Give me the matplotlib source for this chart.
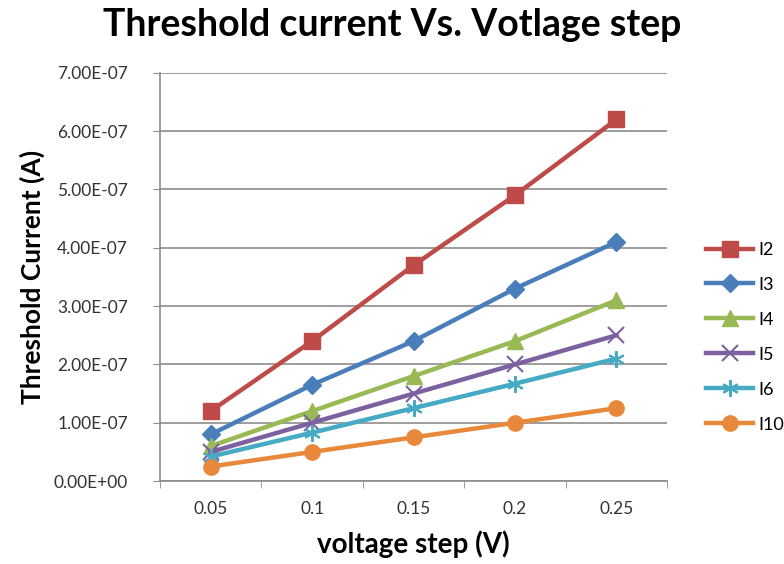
import matplotlib.pyplot as plt
import numpy as np

plt.rcParams['font.family'] = ['Lato', 'DejaVu Sans']

steps = ["0.05", "0.1", "0.15", "0.2", "0.25"]
series_names = ["I2", "I3", "I4", "I5", "I6", "I10"]
i2 = [1.2e-7, 2.4e-7, 3.7e-7, 4.9e-7, 6.2e-7]
i3 = [0.8e-7, 1.65e-7, 2.4e-7, 3.3e-7, 4.1e-7]
i4 = [0.6e-7, 1.2e-7, 1.8e-7, 2.4e-7, 3.1e-7]
i5 = [0.5e-7, 1.0e-7, 1.5e-7, 2.0e-7, 2.5e-7]
i6 = [0.42e-7, 0.83e-7, 1.25e-7, 1.67e-7, 2.1e-7]
i10 = [0.25e-7, 0.5e-7, 0.75e-7, 1.0e-7, 1.25e-7]
yticks = [0, 1e-7, 2e-7, 3e-7, 4e-7, 5e-7, 6e-7, 7e-7]

colors = ["#BE4B48", "#4A7EBB", "#98B954", "#7D60A0", "#46AAC5", "#E8883A"]
markers = ["s", "D", "^", "x", (6, 2, 0), "o"]
msizes = [12, 9, 11, 12, 12, 11]

fig = plt.figure(figsize=(7.84, 5.64), dpi=100)
ax = fig.add_axes([0.204, 0.147, 0.647, 0.724])

x = np.arange(len(steps))
for name, vals, c, m, ms in zip(series_names, [i2, i3, i4, i5, i6, i10], colors, markers, msizes):
    ax.plot(x, vals, color=c, lw=3.2, marker=m, markersize=ms,
            markeredgewidth=1.5 if m in ("x", (6, 2, 0)) else 1,
            markeredgecolor=c, label=name, zorder=3)

ax.set_xlim(-0.5, len(steps) - 0.5)
ax.set_ylim(0, 7e-7)
ax.set_xticks(x)
ax.set_xticklabels(steps)
ax.set_xticks(np.arange(-0.5, len(steps)), minor=True)
ax.tick_params(axis='x', which='major', length=0, pad=14)
ax.tick_params(axis='x', which='minor', length=5, color='#8c8c8c')
ax.set_yticks(yticks)
ax.set_yticklabels([f"{v:.2E}" for v in yticks])
ax.tick_params(axis='y', length=5, color='#8c8c8c', pad=18)
ax.tick_params(labelsize=12.5, labelcolor='#333333')

ax.grid(True, axis='y', color='#8c8c8c', lw=1.2, zorder=1)
for side in ("top", "right"):
    ax.spines[side].set_visible(False)
for side in ("left", "bottom"):
    ax.spines[side].set_color('#8c8c8c')
    ax.spines[side].set_linewidth(1.2)

ax.set_xlabel("voltage step (V)", fontsize=20, fontweight='bold', labelpad=10)
ax.set_ylabel("Threshold Current (A)", fontsize=19, fontweight='bold', labelpad=6)
fig.suptitle("Threshold current Vs. Votlage step", fontsize=27, fontweight='bold', y=0.985)

fig.legend(loc='upper left', bbox_to_anchor=(0.88, 0.6), frameon=False,
           fontsize=13, handlelength=2.6, labelspacing=1.05, handletextpad=0.3)

fig.savefig("out.png", dpi=100)
